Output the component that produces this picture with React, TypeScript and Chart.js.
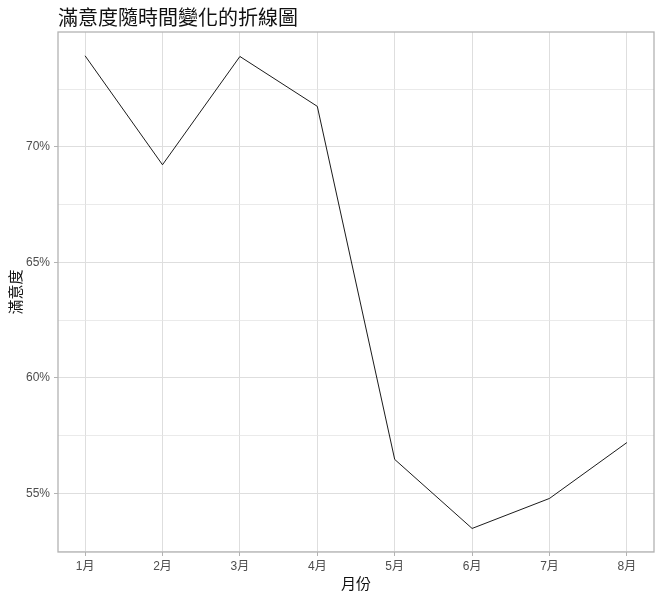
import { useEffect, useRef } from "react";
import { Chart, registerables, type Plugin } from "chart.js";

Chart.register(...registerables);

const months = [1, 2, 3, 4, 5, 6, 7, 8];
const satisfaction = [73.95, 69.23, 73.92, 71.76, 56.47, 53.48, 54.78, 57.2];
const yTicks = [52.5, 55, 57.5, 60, 62.5, 65, 67.5, 70, 72.5];

const titleText = "滿意度隨時間變化的折線圖";
const xTitle = "月份";
const yTitle = "滿意度";

const FONT = "'Noto Sans CJK TC', 'Noto Sans', sans-serif";
const TICK_FONT = "'Liberation Sans', 'Noto Sans CJK TC', sans-serif";
const GRID = "#dedede";
const GRID_MINOR = "#e4e4e4";
const BORDER = "#b3b3b3";

const isMajor = (v: number) => Math.abs(v % 5) < 1e-6;

// ggplot-like title, axis titles and panel border
const decorations: Plugin<"line"> = {
  id: "decorations",
  afterDraw(chart) {
    const { ctx, chartArea } = chart;
    const { left, right, top, bottom } = chartArea;
    ctx.save();

    ctx.strokeStyle = BORDER;
    ctx.lineWidth = 1.3;
    ctx.strokeRect(left, top, right - left, bottom - top);

    ctx.fillStyle = "#111111";
    ctx.font = `20px ${FONT}`;
    ctx.textAlign = "left";
    ctx.textBaseline = "middle";
    ctx.fillText(titleText, left, 17);

    ctx.font = `15px ${FONT}`;
    ctx.textAlign = "center";
    ctx.fillText(xTitle, (left + right) / 2, 583);

    ctx.translate(15, (top + bottom) / 2);
    ctx.rotate(-Math.PI / 2);
    ctx.fillText(yTitle, 0, 0);
    ctx.restore();
  },
};

export default function App() {
  const canvasRef = useRef<HTMLCanvasElement | null>(null);

  useEffect(() => {
    const canvas = canvasRef.current;
    if (!canvas) return;

    const chart = new Chart(canvas, {
      type: "line",
      data: {
        datasets: [
          {
            data: months.map((m, i) => ({ x: m, y: satisfaction[i] })),
            borderColor: "#000000",
            borderWidth: 0.9,
            pointRadius: 0,
            tension: 0,
          },
        ],
      },
      options: {
        animation: false,
        responsive: false,
        devicePixelRatio: 1,
        layout: { padding: { top: 32, right: 8, left: 0, bottom: 0 } },
        plugins: {
          legend: { display: false },
          tooltip: { enabled: false },
          title: { display: false },
        },
        scales: {
          x: {
            type: "linear",
            min: 0.65,
            max: 8.35,
            afterBuildTicks: (scale) => {
              scale.ticks = months.map((m) => ({ value: m }));
            },
            afterFit: (scale) => {
              scale.height = 46;
            },
            ticks: {
              callback: (v) => `${v}月`,
              color: "#4d4d4d",
              font: { family: TICK_FONT, size: 12 },
              padding: 3,
              maxRotation: 0,
              autoSkip: false,
            },
            grid: {
              color: GRID,
              lineWidth: 1,
              tickLength: 4,
              tickColor: BORDER,
            },
            border: { display: false },
          },
          y: {
            type: "linear",
            min: 52.46,
            max: 74.98,
            afterBuildTicks: (scale) => {
              scale.ticks = yTicks.map((v) => ({ value: v }));
            },
            afterFit: (scale) => {
              scale.width = 58;
            },
            ticks: {
              callback: (v) => (isMajor(Number(v)) ? `${v}%` : ""),
              color: "#4d4d4d",
              font: { family: TICK_FONT, size: 12 },
              padding: 4,
              autoSkip: false,
            },
            grid: {
              color: (c) => (isMajor(c.tick.value) ? GRID : GRID_MINOR),
              lineWidth: (c) => (isMajor(c.tick.value) ? 1 : 0.8),
              tickLength: 4,
              tickColor: (c) => (isMajor(c.tick.value) ? BORDER : "rgba(0,0,0,0)"),
            },
            border: { display: false },
          },
        },
      },
      plugins: [decorations],
    });

    return () => chart.destroy();
  }, []);

  return (
    <div style={{ position: "absolute", left: 0, top: 0, width: 662, height: 598 }}>
      <canvas ref={canvasRef} width={662} height={598} />
    </div>
  );
}
